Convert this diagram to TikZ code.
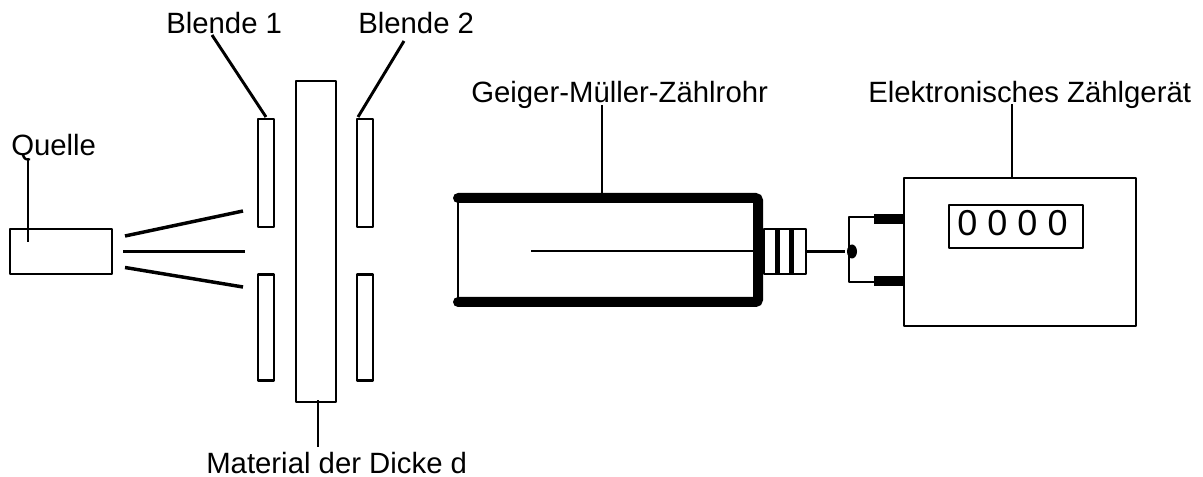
\documentclass[tikz,border=0pt]{standalone}
\usepackage{fontspec}
\setmainfont{Liberation Sans}
\tikzset{
  part/.style={draw, line width=2.2pt, inner sep=0pt, line join=round},
  lead/.style={line width=2.2pt},
  beam/.style={line width=2.6pt},
  thickwall/.style={line width=7.5pt},
  caption/.style={inner sep=0pt, anchor=base west, font=\fontsize{22pt}{25pt}\selectfont}
}
\begin{document}
\begin{tikzpicture}[x=0.75pt, y=-0.75pt]
  \useasboundingbox (0,0) rectangle (1203,477);

  \node [caption] (QL) at (11,155.5) {Quelle};
  \node [caption] (B1L) at (166,33.5) {Blende 1};
  \node [caption] (B2L) at (358,33.5) {Blende 2};
  \node [caption] (ML) at (206,473.5) {Material der Dicke d};
  \node [caption] (GL) at (471,102.5) {Geiger-Müller-Zählrohr};
  \node [caption] (EL) at (868,102.5) {Elektronisches Zählgerät};

  \node [part, minimum width=76.5pt, minimum height=33.75pt] (Q) at (61,251.5) {};
  \node [part, minimum width=12pt, minimum height=81pt] (B1o) at (266,173) {};
  \node [part, minimum width=12pt, minimum height=80pt] (B1u) at (266,327.5) {};
  \node [part, minimum width=12pt, minimum height=81pt] (B2o) at (365,173) {};
  \node [part, minimum width=12pt, minimum height=80pt] (B2u) at (365,327.5) {};
  \node [part, minimum width=30pt, minimum height=240.75pt] (M) at (316,241.5) {};
  \node [part, minimum width=174pt, minimum height=111pt] (Z) at (1020,252) {};
  \node [part, minimum width=100.5pt, minimum height=32.25pt] (D) at (1016,226.5) {};
  \node [inner sep=0pt, font=\fontsize{27pt}{30pt}\selectfont] (DZ) at (1012.5,223) {0 0 0 0};
  \node [part, minimum width=31.5pt, minimum height=33.75pt] (S) at (785,251.5) {};

  \coordinate (Qa) at (28,158);
  \coordinate (Qe) at (28,242);
  \coordinate (B1a) at (212,35);
  \coordinate (B1e) at (266,117);
  \coordinate (B2a) at (404,41);
  \coordinate (B2e) at (358,117);
  \coordinate (Ma) at (318,400);
  \coordinate (Me) at (318,447);
  \coordinate (Ga) at (602,105);
  \coordinate (Ge) at (602,195);
  \coordinate (Ea) at (1012,104);
  \coordinate (Ee) at (1012,179);

  \draw [lead] (Qa) -- (Qe);
  \draw [lead] (B1a) -- (B1e);
  \draw [lead] (B2a) -- (B2e);
  \draw [lead] (Ma) -- (Me);
  \draw [lead] (Ga) -- (Ge);
  \draw [lead] (Ea) -- (Ee);

  \coordinate (S1a) at (125,236);
  \coordinate (S1e) at (243,211);
  \coordinate (S2a) at (123,251.5);
  \coordinate (S2e) at (245,251.5);
  \coordinate (S3a) at (125,267.5);
  \coordinate (S3e) at (243,287);
  \draw [beam] (S1a) -- (S1e);
  \draw [beam] (S2a) -- (S2e);
  \draw [beam] (S3a) -- (S3e);

  % rohr
  \coordinate (RoL) at (458,198);
  \coordinate (RoR) at (758,198);
  \coordinate (RuL) at (458,302);
  \coordinate (RuR) at (758,302);
  \coordinate (W) at (531,251);
  \coordinate (We) at (758,251);
  \draw [thickwall, line cap=round, rounded corners=2pt] (RoL) -- (RoR) -- (RuR) -- (RuL);
  \draw [lead] (RoL) -- (RuL);
  \draw [lead] (W) -- (We);

  \draw [line width=3.75pt] (777,229) -- (777,274);
  \draw [line width=3.75pt] (791,229) -- (791,274);

  % stecker
  \coordinate (P) at (852,251.5);
  \coordinate (Ko) at (849,217);
  \coordinate (Ku) at (849,282);
  \coordinate (Koe) at (875,217);
  \coordinate (Kue) at (875,282);
  \coordinate (Po) at (874,219.5);
  \coordinate (Poe) at (903,219.5);
  \coordinate (Pu) at (874,281);
  \coordinate (Pue) at (903,281);
  \draw [lead, shorten >= 5pt] (S.east) -- (P);
  \fill (P) ellipse [x radius=5, y radius=7];
  \draw [lead, line join=round] (Koe) -- (Ko) -- (Ku) -- (Kue);
  \draw [thickwall] (Po) -- (Poe);
  \draw [thickwall] (Pu) -- (Pue);
\end{tikzpicture}
\end{document}
